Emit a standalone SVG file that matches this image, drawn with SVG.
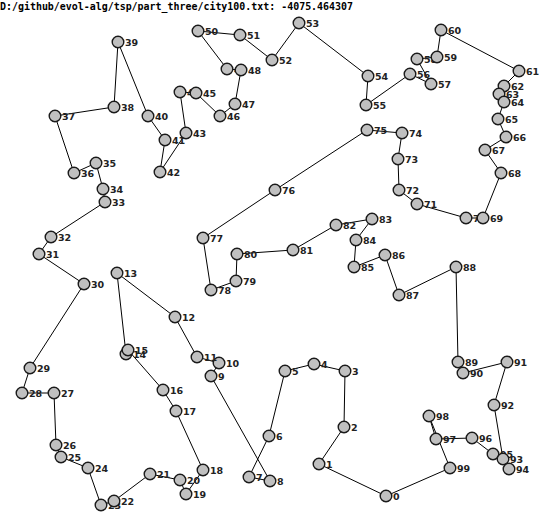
<svg xmlns="http://www.w3.org/2000/svg" width="539" height="525" viewBox="0 0 539 525">
<style>
  .bg { fill: #ffffff; }
  .title { font-family: "DejaVu Sans Mono", "Liberation Mono", monospace; font-weight: bold; font-size: 10px; fill: #000; }
  .edge { stroke: #000; stroke-width: 1; fill: none; }
  .city circle { fill: #c0c0c0; stroke: #1a1a1a; stroke-width: 1.4; }
  .city text { font-family: "DejaVu Sans", "Liberation Sans", sans-serif; font-weight: bold; font-size: 9.5px; fill: #222; }
</style>
<rect class="bg" x="0" y="0" width="539" height="525"/>
<text class="title" x="0" y="10" textLength="353" lengthAdjust="spacingAndGlyphs">D:/github/evol-alg/tsp/part_three/city100.txt: -4075.464307</text>

<!-- tour: cities visited in order 0..99, closing back to 0 -->
<g id="connectors">
  <polyline class="edge" points="386,496 319,464 344,427 345,371 314,364 285,371 269,436 249,477 270,481 211,376 219,363 197,357 175,317 117,273 126,354 128,350 163,390 176,411 203,470 186,494 180,480 150,474 114,501 101,505 88,468 61,457 56,445 54,393 22,393 30,368 84,284 39,254 51,237 105,202 103,189 96,163 74,173 55,116 114,107 118,42 148,116 165,140 160,172 186,133 180,92 196,93 220,116 235,104 241,70 227,69 198,31 240,35 272,60 299,23 368,76 366,105 410,74 431,84 417,59 437,57 441,30 519,71 504,86 499,94 504,102 498,119 506,137 485,150 501,173 483,218 466,218 417,204 399,190 398,159 402,133 367,130 275,190 203,238 211,290 236,281 237,254 293,250 336,225 372,219 356,240 354,267 385,255 399,295 456,267 458,362 463,373 507,362 494,405 503,459 509,469 493,454 472,438 436,439 429,416 450,468 386,496"/>
</g>

<g id="cities">
  <g class="city" id="city0"><text x="393" y="500">0</text><circle cx="386" cy="496" r="5.8"/></g>
  <g class="city" id="city1"><text x="326" y="468">1</text><circle cx="319" cy="464" r="5.8"/></g>
  <g class="city" id="city2"><text x="351" y="431">2</text><circle cx="344" cy="427" r="5.8"/></g>
  <g class="city" id="city3"><text x="352" y="375">3</text><circle cx="345" cy="371" r="5.8"/></g>
  <g class="city" id="city4"><text x="321" y="368">4</text><circle cx="314" cy="364" r="5.8"/></g>
  <g class="city" id="city5"><text x="292" y="375">5</text><circle cx="285" cy="371" r="5.8"/></g>
  <g class="city" id="city6"><text x="276" y="440">6</text><circle cx="269" cy="436" r="5.8"/></g>
  <g class="city" id="city7"><text x="256" y="481">7</text><circle cx="249" cy="477" r="5.8"/></g>
  <g class="city" id="city8"><text x="277" y="485">8</text><circle cx="270" cy="481" r="5.8"/></g>
  <g class="city" id="city9"><text x="218" y="380">9</text><circle cx="211" cy="376" r="5.8"/></g>
  <g class="city" id="city10"><text x="226" y="367">10</text><circle cx="219" cy="363" r="5.8"/></g>
  <g class="city" id="city11"><text x="204" y="361">11</text><circle cx="197" cy="357" r="5.8"/></g>
  <g class="city" id="city12"><text x="182" y="321">12</text><circle cx="175" cy="317" r="5.8"/></g>
  <g class="city" id="city13"><text x="124" y="277">13</text><circle cx="117" cy="273" r="5.8"/></g>
  <g class="city" id="city14"><text x="133" y="358">14</text><circle cx="126" cy="354" r="5.8"/></g>
  <g class="city" id="city15"><text x="135" y="354">15</text><circle cx="128" cy="350" r="5.8"/></g>
  <g class="city" id="city16"><text x="170" y="394">16</text><circle cx="163" cy="390" r="5.8"/></g>
  <g class="city" id="city17"><text x="183" y="415">17</text><circle cx="176" cy="411" r="5.8"/></g>
  <g class="city" id="city18"><text x="210" y="474">18</text><circle cx="203" cy="470" r="5.8"/></g>
  <g class="city" id="city19"><text x="193" y="498">19</text><circle cx="186" cy="494" r="5.8"/></g>
  <g class="city" id="city20"><text x="187" y="484">20</text><circle cx="180" cy="480" r="5.8"/></g>
  <g class="city" id="city21"><text x="157" y="478">21</text><circle cx="150" cy="474" r="5.8"/></g>
  <g class="city" id="city23"><text x="108" y="509">23</text><circle cx="101" cy="505" r="5.8"/></g>
  <g class="city" id="city22"><text x="121" y="505">22</text><circle cx="114" cy="501" r="5.8"/></g>
  <g class="city" id="city24"><text x="95" y="472">24</text><circle cx="88" cy="468" r="5.8"/></g>
  <g class="city" id="city25"><text x="68" y="461">25</text><circle cx="61" cy="457" r="5.8"/></g>
  <g class="city" id="city26"><text x="63" y="449">26</text><circle cx="56" cy="445" r="5.8"/></g>
  <g class="city" id="city27"><text x="61" y="397">27</text><circle cx="54" cy="393" r="5.8"/></g>
  <g class="city" id="city28"><text x="29" y="397">28</text><circle cx="22" cy="393" r="5.8"/></g>
  <g class="city" id="city29"><text x="37" y="372">29</text><circle cx="30" cy="368" r="5.8"/></g>
  <g class="city" id="city30"><text x="91" y="288">30</text><circle cx="84" cy="284" r="5.8"/></g>
  <g class="city" id="city31"><text x="46" y="258">31</text><circle cx="39" cy="254" r="5.8"/></g>
  <g class="city" id="city32"><text x="58" y="241">32</text><circle cx="51" cy="237" r="5.8"/></g>
  <g class="city" id="city33"><text x="112" y="206">33</text><circle cx="105" cy="202" r="5.8"/></g>
  <g class="city" id="city34"><text x="110" y="193">34</text><circle cx="103" cy="189" r="5.8"/></g>
  <g class="city" id="city35"><text x="103" y="167">35</text><circle cx="96" cy="163" r="5.8"/></g>
  <g class="city" id="city36"><text x="81" y="177">36</text><circle cx="74" cy="173" r="5.8"/></g>
  <g class="city" id="city37"><text x="62" y="120">37</text><circle cx="55" cy="116" r="5.8"/></g>
  <g class="city" id="city38"><text x="121" y="111">38</text><circle cx="114" cy="107" r="5.8"/></g>
  <g class="city" id="city39"><text x="125" y="46">39</text><circle cx="118" cy="42" r="5.8"/></g>
  <g class="city" id="city40"><text x="155" y="120">40</text><circle cx="148" cy="116" r="5.8"/></g>
  <g class="city" id="city41"><text x="172" y="144">41</text><circle cx="165" cy="140" r="5.8"/></g>
  <g class="city" id="city42"><text x="167" y="176">42</text><circle cx="160" cy="172" r="5.8"/></g>
  <g class="city" id="city43"><text x="193" y="137">43</text><circle cx="186" cy="133" r="5.8"/></g>
  <g class="city" id="city44"><text x="187" y="96">44</text><circle cx="180" cy="92" r="5.8"/></g>
  <g class="city" id="city45"><text x="203" y="97">45</text><circle cx="196" cy="93" r="5.8"/></g>
  <g class="city" id="city46"><text x="227" y="120">46</text><circle cx="220" cy="116" r="5.8"/></g>
  <g class="city" id="city47"><text x="242" y="108">47</text><circle cx="235" cy="104" r="5.8"/></g>
  <g class="city" id="city49"><text x="234" y="73">49</text><circle cx="227" cy="69" r="5.8"/></g>
  <g class="city" id="city48"><text x="248" y="74">48</text><circle cx="241" cy="70" r="5.8"/></g>
  <g class="city" id="city50"><text x="205" y="35">50</text><circle cx="198" cy="31" r="5.8"/></g>
  <g class="city" id="city51"><text x="247" y="39">51</text><circle cx="240" cy="35" r="5.8"/></g>
  <g class="city" id="city52"><text x="279" y="64">52</text><circle cx="272" cy="60" r="5.8"/></g>
  <g class="city" id="city53"><text x="306" y="27">53</text><circle cx="299" cy="23" r="5.8"/></g>
  <g class="city" id="city54"><text x="375" y="80">54</text><circle cx="368" cy="76" r="5.8"/></g>
  <g class="city" id="city55"><text x="373" y="109">55</text><circle cx="366" cy="105" r="5.8"/></g>
  <g class="city" id="city56"><text x="417" y="78">56</text><circle cx="410" cy="74" r="5.8"/></g>
  <g class="city" id="city57"><text x="438" y="88">57</text><circle cx="431" cy="84" r="5.8"/></g>
  <g class="city" id="city58"><text x="424" y="63">58</text><circle cx="417" cy="59" r="5.8"/></g>
  <g class="city" id="city59"><text x="444" y="61">59</text><circle cx="437" cy="57" r="5.8"/></g>
  <g class="city" id="city60"><text x="448" y="34">60</text><circle cx="441" cy="30" r="5.8"/></g>
  <g class="city" id="city61"><text x="526" y="75">61</text><circle cx="519" cy="71" r="5.8"/></g>
  <g class="city" id="city62"><text x="511" y="90">62</text><circle cx="504" cy="86" r="5.8"/></g>
  <g class="city" id="city63"><text x="506" y="98">63</text><circle cx="499" cy="94" r="5.8"/></g>
  <g class="city" id="city64"><text x="511" y="106">64</text><circle cx="504" cy="102" r="5.8"/></g>
  <g class="city" id="city65"><text x="505" y="123">65</text><circle cx="498" cy="119" r="5.8"/></g>
  <g class="city" id="city66"><text x="513" y="141">66</text><circle cx="506" cy="137" r="5.8"/></g>
  <g class="city" id="city67"><text x="492" y="154">67</text><circle cx="485" cy="150" r="5.8"/></g>
  <g class="city" id="city68"><text x="508" y="177">68</text><circle cx="501" cy="173" r="5.8"/></g>
  <g class="city" id="city70"><text x="473" y="222">70</text><circle cx="466" cy="218" r="5.8"/></g>
  <g class="city" id="city69"><text x="490" y="222">69</text><circle cx="483" cy="218" r="5.8"/></g>
  <g class="city" id="city71"><text x="424" y="208">71</text><circle cx="417" cy="204" r="5.8"/></g>
  <g class="city" id="city72"><text x="406" y="194">72</text><circle cx="399" cy="190" r="5.8"/></g>
  <g class="city" id="city73"><text x="405" y="163">73</text><circle cx="398" cy="159" r="5.8"/></g>
  <g class="city" id="city74"><text x="409" y="137">74</text><circle cx="402" cy="133" r="5.8"/></g>
  <g class="city" id="city75"><text x="374" y="134">75</text><circle cx="367" cy="130" r="5.8"/></g>
  <g class="city" id="city76"><text x="282" y="194">76</text><circle cx="275" cy="190" r="5.8"/></g>
  <g class="city" id="city77"><text x="210" y="242">77</text><circle cx="203" cy="238" r="5.8"/></g>
  <g class="city" id="city78"><text x="218" y="294">78</text><circle cx="211" cy="290" r="5.8"/></g>
  <g class="city" id="city79"><text x="243" y="285">79</text><circle cx="236" cy="281" r="5.8"/></g>
  <g class="city" id="city80"><text x="244" y="258">80</text><circle cx="237" cy="254" r="5.8"/></g>
  <g class="city" id="city81"><text x="300" y="254">81</text><circle cx="293" cy="250" r="5.8"/></g>
  <g class="city" id="city82"><text x="343" y="229">82</text><circle cx="336" cy="225" r="5.8"/></g>
  <g class="city" id="city83"><text x="379" y="223">83</text><circle cx="372" cy="219" r="5.8"/></g>
  <g class="city" id="city84"><text x="363" y="244">84</text><circle cx="356" cy="240" r="5.8"/></g>
  <g class="city" id="city85"><text x="361" y="271">85</text><circle cx="354" cy="267" r="5.8"/></g>
  <g class="city" id="city86"><text x="392" y="259">86</text><circle cx="385" cy="255" r="5.8"/></g>
  <g class="city" id="city87"><text x="406" y="299">87</text><circle cx="399" cy="295" r="5.8"/></g>
  <g class="city" id="city88"><text x="463" y="271">88</text><circle cx="456" cy="267" r="5.8"/></g>
  <g class="city" id="city89"><text x="465" y="366">89</text><circle cx="458" cy="362" r="5.8"/></g>
  <g class="city" id="city90"><text x="470" y="377">90</text><circle cx="463" cy="373" r="5.8"/></g>
  <g class="city" id="city91"><text x="514" y="366">91</text><circle cx="507" cy="362" r="5.8"/></g>
  <g class="city" id="city92"><text x="501" y="409">92</text><circle cx="494" cy="405" r="5.8"/></g>
  <g class="city" id="city95"><text x="500" y="458">95</text><circle cx="493" cy="454" r="5.8"/></g>
  <g class="city" id="city93"><text x="510" y="463">93</text><circle cx="503" cy="459" r="5.8"/></g>
  <g class="city" id="city94"><text x="516" y="473">94</text><circle cx="509" cy="469" r="5.8"/></g>
  <g class="city" id="city96"><text x="479" y="442">96</text><circle cx="472" cy="438" r="5.8"/></g>
  <g class="city" id="city97"><text x="443" y="443">97</text><circle cx="436" cy="439" r="5.8"/></g>
  <g class="city" id="city98"><text x="436" y="420">98</text><circle cx="429" cy="416" r="5.8"/></g>
  <g class="city" id="city99"><text x="457" y="472">99</text><circle cx="450" cy="468" r="5.8"/></g>
</g>
</svg>
